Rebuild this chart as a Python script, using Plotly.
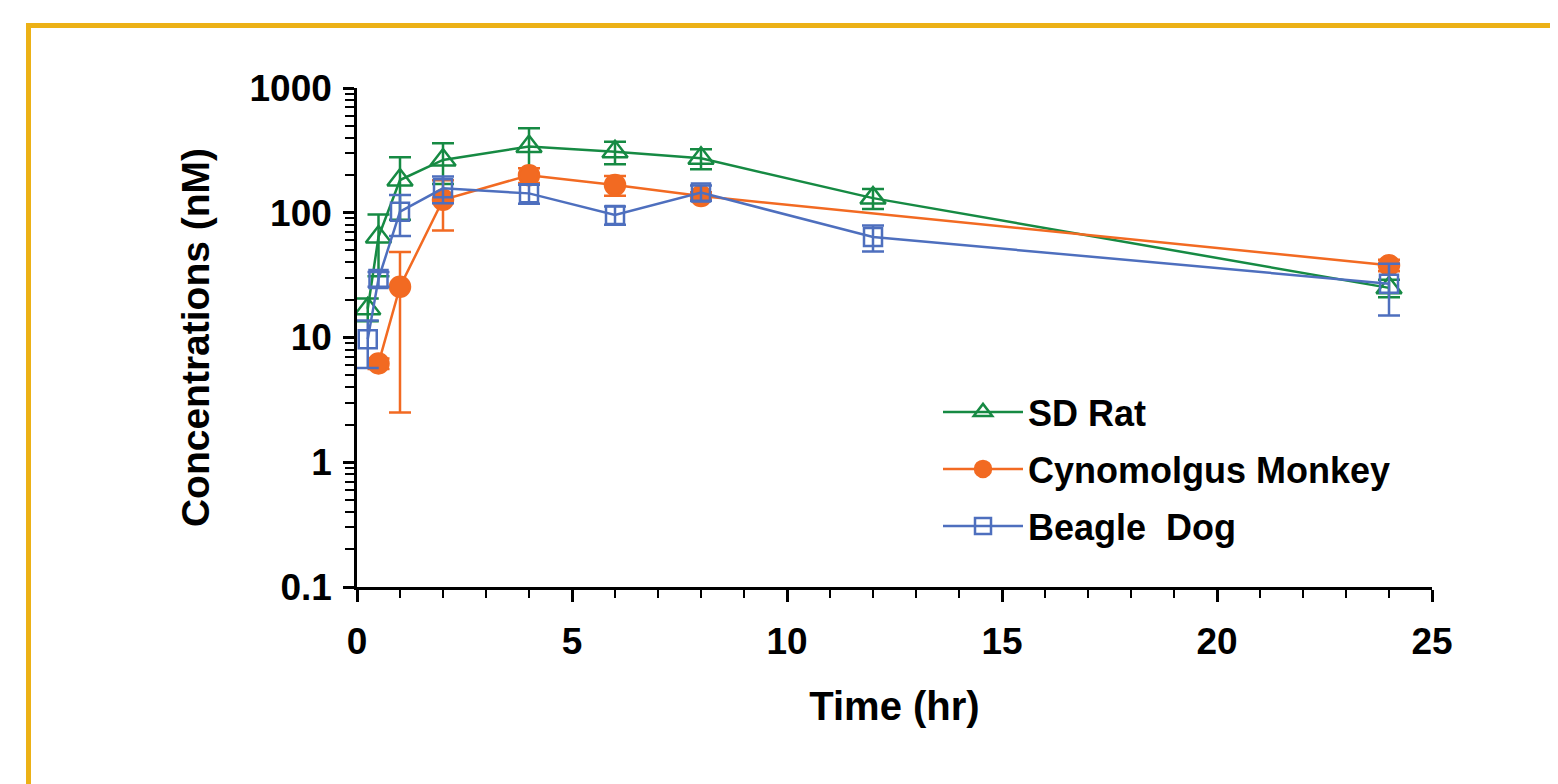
import plotly.graph_objects as go

# ---- data ----
rat_time = [0.25, 0.5, 1, 2, 4, 6, 8, 12, 24]
rat_conc = [17, 64, 183, 265, 340, 308, 273, 131, 25]
rat_err = [3.5, 33, 95, 95, 136, 63, 50, 24, 4]

monkey_time = [0.5, 1, 2, 4, 6, 8, 24]
monkey_conc = [6.2, 25.5, 127, 200, 167, 136, 38]
monkey_err = [0.6, 23, 55, 27, 30, 10, 4]

dog_time = [0.25, 0.5, 1, 2, 4, 6, 8, 12, 24]
dog_conc = [9.7, 29.5, 102, 157, 143, 96, 145, 64, 27]
dog_err = [4, 4, 37, 38, 25, 16, 20, 15, 12]

x_ticks = [0, 5, 10, 15, 20, 25]
y_tickvals = [0.1, 1, 10, 100, 1000]
y_ticktext = ["0.1", "1", "10", "100", "1000"]

GREEN = "#168a43"
ORANGE = "#f26a22"
BLUE = "#4e6fbe"
FONT = "Liberation Sans, Arial, sans-serif"

fig = go.Figure()

def add(name, t, c, e, color, symbol, size, legend):
    fig.add_trace(go.Scatter(
        x=t, y=c, name=name, mode="lines+markers",
        line=dict(color=color, width=2.5),
        marker=dict(symbol=symbol, size=size, color=color,
                    line=dict(color=color, width=2.5)),
        error_y=dict(type="data", array=e, color=color, thickness=2.5, width=11),
        legend=legend,
    ))

add("SD Rat", rat_time, rat_conc, rat_err, GREEN, "triangle-up-open", 22, "legend")
add("Cynomolgus Monkey", monkey_time, monkey_conc, monkey_err, ORANGE, "circle", 20, "legend2")
add("Beagle  Dog", dog_time, dog_conc, dog_err, BLUE, "square-open", 18, "legend3")

legend_common = dict(
    xanchor="left", yanchor="middle", itemwidth=80,
    font=dict(family=FONT, size=36, color="black", weight="bold"),
    bgcolor="rgba(0,0,0,0)", borderwidth=0,
)
OFF = 8  # page body margin
L0 = 357 - OFF; PW = 1075; B0 = 587 - OFF; PH = 499
def px_x(v): return (v - OFF - L0) / PW
def px_y(v): return (B0 - (v - OFF)) / PH

fig.update_layout(
    width=1550, height=776,
    margin=dict(l=L0, r=1550 - L0 - PW, t=B0 - PH, b=776 - B0),
    paper_bgcolor="white", plot_bgcolor="white",
    showlegend=True,
    legend=dict(x=px_x(938), y=px_y(412), **legend_common),
    legend2=dict(x=px_x(938), y=px_y(469), **legend_common),
    legend3=dict(x=px_x(938), y=px_y(526), **legend_common),
    font=dict(family=FONT, color="black"),
)

fig.update_xaxes(
    range=[0, 25], tickvals=x_ticks,
    showline=True, linecolor="black", linewidth=2.5,
    ticks="outside", ticklen=12, tickwidth=2.5, tickcolor="black",
    minor=dict(ticks="outside", ticklen=8, tickwidth=2, tickcolor="black", dtick=1, showgrid=False),
    showgrid=False, zeroline=False,
    tickfont=dict(family=FONT, size=37, color="black", weight="bold"),
    ticklabelstandoff=8,
    title=dict(text="Time (hr)", font=dict(family=FONT, size=40, color="black", weight="bold"), standoff=31),
)
fig.update_yaxes(
    type="log", range=[-1, 3], tickvals=y_tickvals, ticktext=y_ticktext,
    showline=True, linecolor="black", linewidth=2.5,
    ticks="outside", ticklen=11, tickwidth=2.5, tickcolor="black",
    minor=dict(ticks="outside", ticklen=9, tickwidth=2, tickcolor="black", dtick="D1", showgrid=False),
    showgrid=False, zeroline=False,
    tickfont=dict(family=FONT, size=37, color="black", weight="bold"),
    ticklabelstandoff=4,
    title=dict(text="Concentrations (nM)", font=dict(family=FONT, size=39, color="black", weight="bold"), standoff=28),
)

# gold frame
fig.add_shape(type="rect", xref="paper", yref="paper",
              x0=px_x(28.5), x1=px_x(1700), y0=px_y(900), y1=px_y(25.5),
              line=dict(color="#ecb116", width=5), fillcolor="rgba(0,0,0,0)", layer="below")

fig.write_html("out.html")
